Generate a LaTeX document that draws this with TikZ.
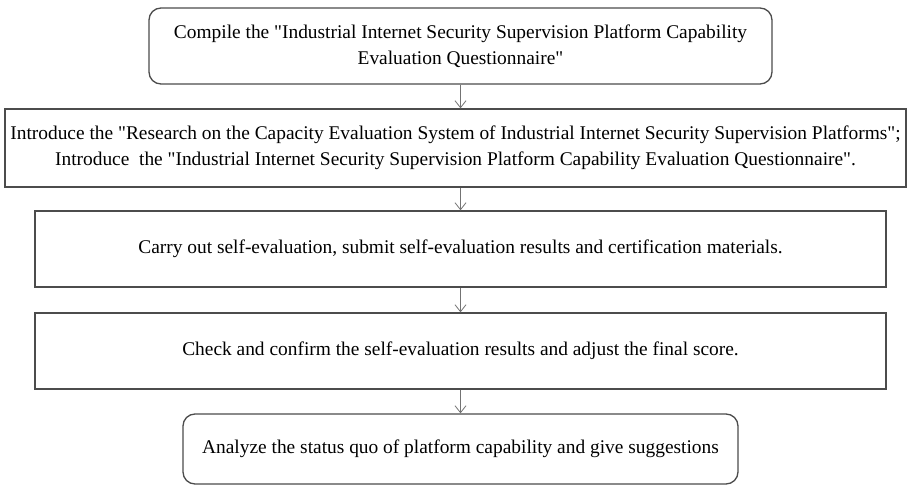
\documentclass[tikz,border=0pt]{standalone}
\usepackage{fontspec}
\setmainfont{Liberation Serif}[Ligatures=TeXOff]
\usetikzlibrary{arrows.meta}
\begin{document}
\begin{tikzpicture}[x=1pt,y=-1pt,
  every node/.style={font=\fontsize{19.4}{26}\selectfont, align=center, inner sep=0pt},
  stepbox/.style={draw=black!70, line width=1.3pt},
  roundbox/.style={stepbox, rounded corners=12pt},
  flow/.style={draw=black!55, line width=0.8pt, -{Straight Barb[length=7pt,width=11pt,line width=0.8pt]}}]
\useasboundingbox (0,0) rectangle (907,486);
\node[roundbox, minimum width=623pt, minimum height=76pt] (b1) at (460.5,46)
  {Compile the "Industrial Internet Security Supervision Platform Capability\\Evaluation Questionnaire"};
\node[stepbox, minimum width=901pt, minimum height=78pt] (b2) at (455.5,148)
  {Introduce the "Research on the Capacity Evaluation System of Industrial Internet Security Supervision Platforms";\\Introduce\ \ the "Industrial Internet Security Supervision Platform Capability Evaluation Questionnaire".};
\node[stepbox, minimum width=851pt, minimum height=76pt] (b3) at (460.5,249)
  {Carry out self-evaluation, submit self-evaluation results and certification materials.};
\node[stepbox, minimum width=851pt, minimum height=76pt] (b4) at (460.5,351)
  {Check and confirm the self-evaluation results and adjust the final score.};
\node[roundbox, minimum width=555pt, minimum height=70pt] (b5) at (460.5,449)
  {Analyze the status quo of platform capability and give suggestions};
\draw[flow] (b1.south) -- (b1.south |- b2.north);
\draw[flow] (b1.south |- b2.south) -- (b3.north);
\draw[flow] (b3.south) -- (b4.north);
\draw[flow] (b4.south) -- (b5.north);
\end{tikzpicture}
\end{document}
